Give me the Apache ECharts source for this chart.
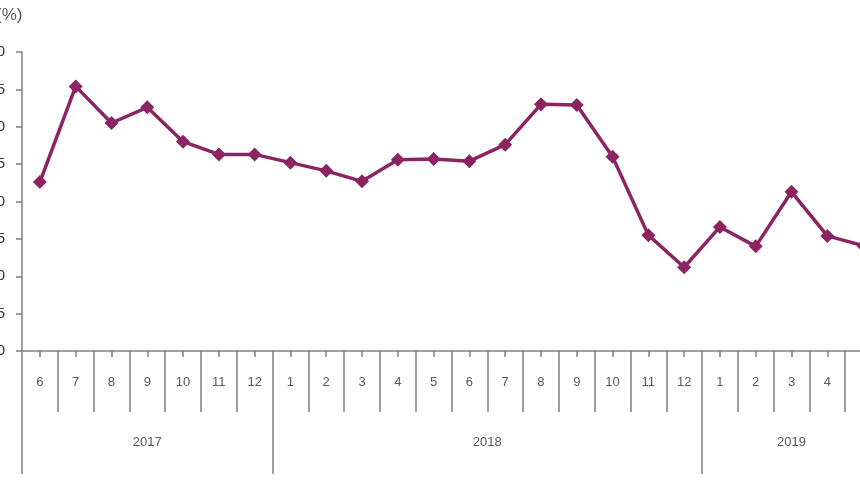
<!DOCTYPE html>
<html>
<head>
<meta charset="utf-8">
<script src="https://cdn.jsdelivr.net/npm/echarts@6/dist/echarts.min.js"></script>
<style>
  html, body { margin: 0; padding: 0; background: #fff; }
  #chart { width: 860px; height: 480px; }
</style>
</head>
<body>
<div id="chart"></div>
<script>
// month ticks: 2017/6 .. 2019/5
const months = ['6', '7', '8', '9', '10', '11', '12',
  '1', '2', '3', '4', '5', '6', '7', '8', '9', '10', '11', '12',
  '1', '2', '3', '4', '5'];
const values = [22.6, 35.4, 30.5, 32.6, 28.0, 26.3, 26.3,
  25.2, 24.1, 22.7, 25.6, 25.7, 25.4, 27.6, 33.0, 32.9, 26.0, 15.5, 11.2,
  16.6, 14.0, 21.3, 15.4, 14.1];
// years: label and month span
const years = ['2017', '2018', '2019'];
const yearSpans = [7, 12, 5];

const yearBounds = [0];
const yearMids = [];
yearSpans.forEach((n, i) => {
  const start = yearBounds[i];
  yearMids.push(start + n / 2);
  yearBounds.push(start + n);
});

const axisGray = '#7f7f7f';
const textGray = '#595959';
const lineColor = '#8c2461';

const chart = echarts.init(document.getElementById('chart'));

chart.setOption({
  animation: false,
  textStyle: { fontFamily: 'Liberation Sans' },
  graphic: [{
    type: 'text',
    left: -4,
    top: 7,
    style: { text: '(%)', fontSize: 17, fill: textGray, fontFamily: 'Liberation Sans' }
  }],
  grid: { left: 22, top: 52, width: 859, bottom: 129, containLabel: false, outerBoundsMode: 'none' },
  xAxis: [
    {
      // months + separators between them
      type: 'category',
      data: months,
      boundaryGap: true,
      axisLine: { show: true, lineStyle: { color: axisGray, width: 1.5 } },
      axisTick: { show: true, length: 61, lineStyle: { color: axisGray, width: 1.5 } },
      axisLabel: { margin: 25, fontSize: 13, color: textGray, interval: 0 },
      splitLine: { show: false }
    },
    {
      // small ticks under each point
      type: 'category',
      data: months,
      position: 'bottom',
      axisLine: { show: false },
      axisTick: { show: true, alignWithLabel: true, length: 6, lineStyle: { color: axisGray, width: 1.5 } },
      axisLabel: { show: false },
      splitLine: { show: false }
    },
    {
      // years
      type: 'value',
      min: 0,
      max: months.length,
      position: 'bottom',
      axisLine: { show: false },
      axisTick: {
        show: true,
        customValues: yearBounds,
        length: 123,
        lineStyle: { color: axisGray, width: 1.5 }
      },
      axisLabel: {
        customValues: yearMids,
        margin: 85,
        fontSize: 13,
        color: textGray,
        formatter: v => years[yearMids.indexOf(v)] || ''
      },
      splitLine: { show: false }
    }
  ],
  yAxis: {
    type: 'value',
    min: 0,
    max: 40,
    interval: 5,
    axisLine: { show: true, lineStyle: { color: axisGray, width: 1.5 } },
    axisTick: { show: true, length: 6, lineStyle: { color: axisGray, width: 1.5 } },
    axisLabel: { margin: 17, fontSize: 15, color: '#333' },
    splitLine: { show: false }
  },
  series: [{
    type: 'line',
    xAxisIndex: 0,
    data: values,
    symbol: 'diamond',
    symbolSize: 14,
    lineStyle: { color: lineColor, width: 3.5 },
    itemStyle: { color: lineColor },
    clip: false
  }]
});
</script>
</body>
</html>
